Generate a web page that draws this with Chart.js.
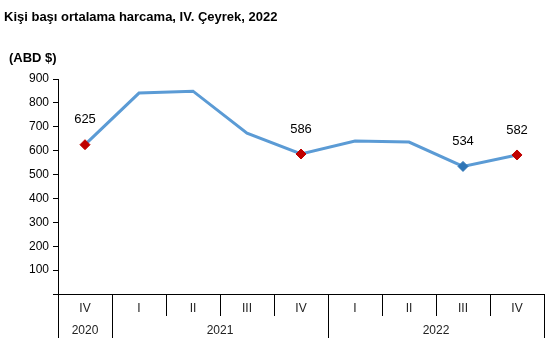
<!DOCTYPE html>
<html>
<head>
<meta charset="utf-8">
<script src="https://cdn.jsdelivr.net/npm/chart.js@4/dist/chart.umd.min.js"></script>
<style>
html,body{margin:0;padding:0;background:#fff;}
#wrap{width:558px;height:360px;position:relative;}
</style>
</head>
<body>
<div id="wrap"><canvas id="c" width="558" height="360"></canvas></div>
<script>
const titleText = "Kişi başı ortalama harcama, IV. Çeyrek, 2022";
const unitText = "(ABD $)";
const quarters = ["IV","I","II","III","IV","I","II","III","IV"];
const years = ["2020","2021","2022"];
const yearSpans = [1,4,4];
const values = [625,841,849,673,586,640,636,534,582];
const labeledIdx = [0,4,7,8];
const markerColors = ["#c00000",null,null,null,"#c00000",null,null,"#2e75b6","#c00000"];
const yTicks = [100,200,300,400,500,600,700,800,900];

const FONT = "'Liberation Sans', Arial, sans-serif";

const decor = {
  id:'decor',
  afterDraw(chart){
    const ctx = chart.ctx;
    const xs = chart.scales.x, ys = chart.scales.y;
    const area = chart.chartArea;
    const n = quarters.length;
    const y0 = ys.getPixelForValue(0);
    ctx.save();
    // title
    ctx.fillStyle = "#000";
    ctx.font = "bold 13px " + FONT;
    ctx.textBaseline = "alphabetic";
    ctx.textAlign = "left";
    ctx.fillText(titleText, 4, 21);
    ctx.fillText(unitText, 9, 62);
    // x axis line
    ctx.strokeStyle = "#000";
    ctx.lineWidth = 1;
    ctx.beginPath();
    ctx.moveTo(area.left-5, Math.round(y0)+0.5);
    ctx.lineTo(area.right+1, Math.round(y0)+0.5);
    ctx.stroke();
    // separators
    const bounds = [0];
    let acc=0; yearSpans.forEach(s=>{acc+=s; bounds.push(acc);});
    for(let i=0;i<=n;i++){
      const x = Math.round(xs.getPixelForValue(i-0.5))+0.5;
      const long = bounds.includes(i);
      ctx.beginPath();
      ctx.moveTo(x, y0);
      ctx.lineTo(x, long ? y0+44 : y0+22);
      ctx.stroke();
    }
    // labels
    ctx.fillStyle = "#222";
    ctx.font = "12px " + FONT;
    ctx.textAlign = "center";
    ctx.textBaseline = "middle";
    quarters.forEach((q,i)=>{
      ctx.fillText(q, xs.getPixelForValue(i), y0+15);
    });
    let start=0;
    years.forEach((yr,j)=>{
      const a = xs.getPixelForValue(start-0.5);
      const b = xs.getPixelForValue(start+yearSpans[j]-0.5);
      ctx.fillText(yr, (a+b)/2, y0+37);
      start += yearSpans[j];
    });
    // data labels
    ctx.fillStyle = "#000";
    ctx.font = "13px " + FONT;
    ctx.textBaseline = "middle";
    const meta = chart.getDatasetMeta(0);
    labeledIdx.forEach(i=>{
      const p = meta.data[i];
      ctx.fillText(String(values[i]), p.x, p.y - 25);
    });
    ctx.restore();
  }
};

new Chart(document.getElementById('c'), {
  type:'line',
  data:{
    labels: quarters.map((q,i)=>q+"-"+i),
    datasets:[{
      data: values,
      borderColor:"#5b9bd5",
      borderWidth:3,
      tension:0,
      pointStyle:'rectRot',
      pointRadius: markerColors.map(c=>c?5:0),
      pointHoverRadius: markerColors.map(c=>c?5:0),
      pointBackgroundColor: markerColors.map(c=>c||"#5b9bd5"),
      pointBorderColor: markerColors.map(c=>c||"#5b9bd5"),
      pointBorderWidth:1
    }]
  },
  options:{
    responsive:false,
    animation:false,
    devicePixelRatio:1,
    layout:{padding:{left:0,right:14,top:79,bottom:66}},
    plugins:{legend:{display:false},tooltip:{enabled:false},title:{display:false}},
    scales:{
      x:{type:'category',offset:true,display:false},
      y:{
        min:0,max:900,
        afterFit(s){ s.width = 58; },
        afterBuildTicks(s){ s.ticks = [0].concat(yTicks).map(v=>({value:v})); },
        border:{display:true,color:"#000",width:1},
        grid:{drawOnChartArea:false,drawTicks:true,tickLength:5,color:"#000"},
        ticks:{
          color:"#000",
          font:{family:FONT,size:12},
          padding:4,
          callback:(v)=> v===0 ? "" : String(v)
        }
      }
    }
  },
  plugins:[decor]
});
</script>
</body>
</html>
